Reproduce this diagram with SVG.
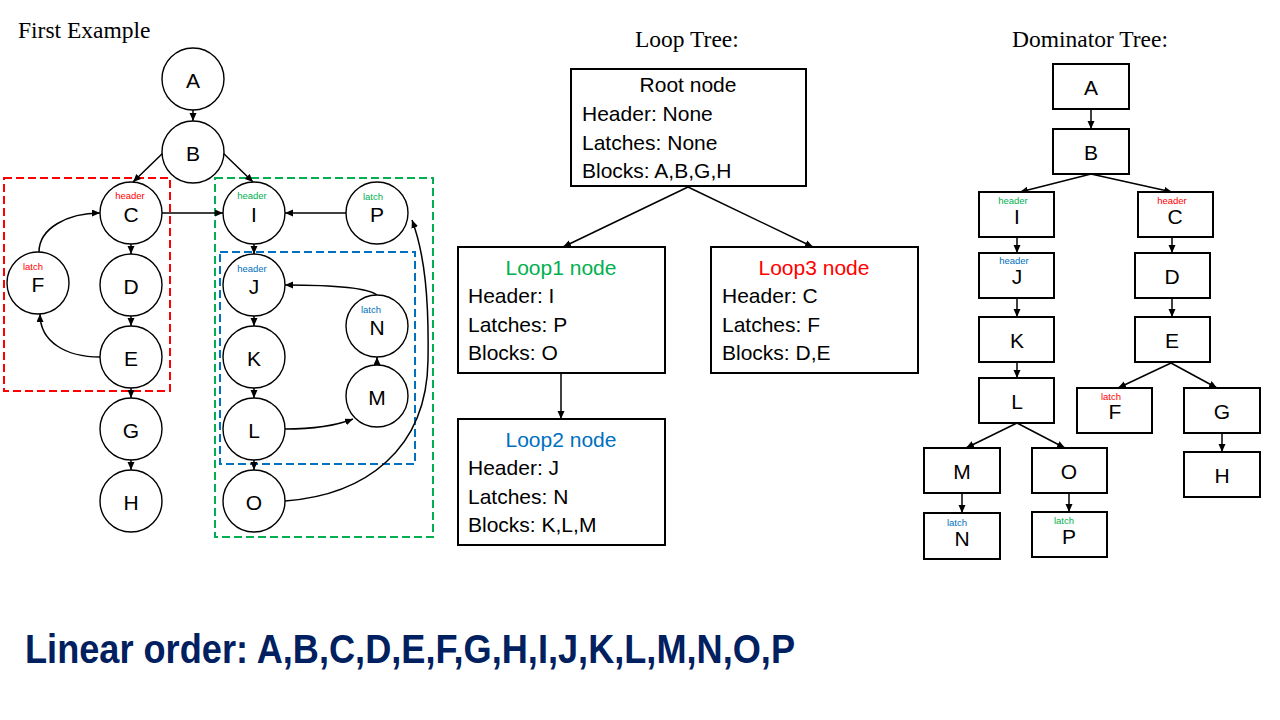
<svg xmlns="http://www.w3.org/2000/svg" width="1280" height="720" viewBox="0 0 1280 720">
<defs>
<marker id="ah" markerUnits="userSpaceOnUse" markerWidth="9" markerHeight="8" refX="8" refY="3.5" orient="auto"><path d="M0,0 L8,3.5 L0,7 z" fill="#000"/></marker>
<style>
.title{font-family:"Liberation Serif",serif;font-size:23.5px;fill:#000}
.c{fill:#fff;stroke:#000;stroke-width:1.4}
.lt{font-family:"Liberation Sans",Arial,sans-serif;font-size:21px;fill:#000;text-anchor:middle}
.sm{font-family:"Liberation Sans",Arial,sans-serif;font-size:9.5px;text-anchor:middle}
.red{fill:#ff0000}.grn{fill:#00b050}.blu{fill:#0070c0}
.e{fill:none;stroke:#000;stroke-width:1.5;marker-end:url(#ah)}
.dash{fill:none;stroke-width:2;stroke-dasharray:8 4}
.bx{fill:#fff;stroke:#000;stroke-width:2}
.tx{font-family:"Liberation Sans",Arial,sans-serif;font-size:21px;fill:#000}
.hd{font-family:"Liberation Sans",Arial,sans-serif;font-size:21px;text-anchor:middle}
</style>
</defs>
<rect width="1280" height="720" fill="#fff"/>

<text class="title" x="18" y="38">First Example</text>
<text class="title" x="635" y="47">Loop Tree:</text>
<text class="title" x="1012" y="47">Dominator Tree:</text>

<!-- loop regions -->
<g id="regions">
<rect class="dash" x="4" y="178" width="166" height="213" stroke="#ff0000"/>
<rect class="dash" x="215" y="178" width="218" height="359" stroke="#00b050"/>
<rect class="dash" x="220" y="252" width="195" height="212" stroke="#0070c0"/>
</g>

<!-- CFG connectors -->
<g id="cfg-edges">
<path class="e" d="M193,110 L193,121"/>
<path class="e" d="M164,152 L133,182"/>
<path class="e" d="M222,152 L253,182"/>
<path class="e" d="M162,213 L223,213"/>
<path class="e" d="M346,213 L285,213"/>
<path class="e" d="M131,244 L131,254"/>
<path class="e" d="M131,316 L131,326"/>
<path class="e" d="M131,388 L131,398"/>
<path class="e" d="M131,460 L131,470"/>
<path class="e" d="M39,252 C39,228 68,213 100,213"/>
<path class="e" d="M100,357 C66,357 40,342 40,314"/>
<path class="e" d="M254,244 L254,254"/>
<path class="e" d="M254,316 L254,326"/>
<path class="e" d="M254,388 L254,398"/>
<path class="e" d="M254,460 L254,470"/>
<path class="e" d="M377,295 C368,288 330,285 285,285"/>
<path class="e" d="M285,429 C310,429 335,426 353,419"/>
<path class="e" d="M377,365 L377,357"/>
<path class="e" d="M285,501 C365,495 427,450 428,360 C429,300 425,255 412,220"/>
</g>

<!-- CFG nodes -->
<g id="cfg-A"><circle class="c" cx="193" cy="79" r="31"/><text class="lt" x="193" y="87.5">A</text></g>
<g id="cfg-B"><circle class="c" cx="193" cy="152" r="31"/><text class="lt" x="193" y="160.5">B</text></g>
<g id="cfg-C"><circle class="c" cx="131" cy="213" r="31"/><text class="sm red" x="130" y="199">header</text><text class="lt" x="131" y="222">C</text></g>
<g id="cfg-D"><circle class="c" cx="131" cy="285" r="31"/><text class="lt" x="131" y="293.5">D</text></g>
<g id="cfg-E"><circle class="c" cx="131" cy="357" r="31"/><text class="lt" x="131" y="365.5">E</text></g>
<g id="cfg-G"><circle class="c" cx="131" cy="429" r="31"/><text class="lt" x="131" y="437.5">G</text></g>
<g id="cfg-H"><circle class="c" cx="131" cy="501" r="31"/><text class="lt" x="131" y="509.5">H</text></g>
<g id="cfg-F"><circle class="c" cx="38" cy="283" r="31"/><text class="sm red" x="33" y="269.5">latch</text><text class="lt" x="38" y="292">F</text></g>
<g id="cfg-I"><circle class="c" cx="254" cy="213" r="31"/><text class="sm grn" x="252" y="199">header</text><text class="lt" x="254" y="222">I</text></g>
<g id="cfg-J"><circle class="c" cx="254" cy="285" r="31"/><text class="sm blu" x="252" y="271.5">header</text><text class="lt" x="254" y="294">J</text></g>
<g id="cfg-K"><circle class="c" cx="254" cy="357" r="31"/><text class="lt" x="254" y="365.5">K</text></g>
<g id="cfg-L"><circle class="c" cx="254" cy="429" r="31"/><text class="lt" x="254" y="437.5">L</text></g>
<g id="cfg-O"><circle class="c" cx="254" cy="501" r="31"/><text class="lt" x="254" y="509.5">O</text></g>
<g id="cfg-P"><circle class="c" cx="377" cy="213" r="31"/><text class="sm grn" x="373" y="199.5">latch</text><text class="lt" x="377" y="222">P</text></g>
<g id="cfg-N"><circle class="c" cx="377" cy="326" r="31"/><text class="sm blu" x="371" y="312.5">latch</text><text class="lt" x="377" y="335">N</text></g>
<g id="cfg-M"><circle class="c" cx="377" cy="396" r="31"/><text class="lt" x="377" y="404.5">M</text></g>

<!-- loop tree connectors -->
<g id="lt-edges">
<path class="e" d="M688,187 L563,247"/>
<path class="e" d="M688,187 L813,247"/>
<path class="e" d="M561,373 L561,419"/>
</g>

<g id="lt-root">
<rect class="bx" x="571" y="69" width="235" height="117"/>
<text class="hd" x="688" y="92" fill="#000">Root node</text>
<text class="tx" x="582" y="121">Header: None</text>
<text class="tx" x="582" y="150">Latches: None</text>
<text class="tx" x="582" y="178">Blocks: A,B,G,H</text>
</g>
<g id="lt-loop1">
<rect class="bx" x="458" y="247" width="207" height="126" stroke="#00b050"/>
<text class="hd" x="561" y="275" fill="#00b050">Loop1 node</text>
<text class="tx" x="468" y="303">Header: I</text>
<text class="tx" x="468" y="332">Latches: P</text>
<text class="tx" x="468" y="360">Blocks: O</text>
</g>
<g id="lt-loop3">
<rect class="bx" x="711" y="247" width="207" height="126" stroke="#ff0000"/>
<text class="hd" x="814" y="275" fill="#ff0000">Loop3 node</text>
<text class="tx" x="722" y="303">Header: C</text>
<text class="tx" x="722" y="332">Latches: F</text>
<text class="tx" x="722" y="360">Blocks: D,E</text>
</g>
<g id="lt-loop2">
<rect class="bx" x="458" y="419" width="207" height="126" stroke="#0070c0"/>
<text class="hd" x="561" y="447" fill="#0070c0">Loop2 node</text>
<text class="tx" x="468" y="475">Header: J</text>
<text class="tx" x="468" y="504">Latches: N</text>
<text class="tx" x="468" y="532">Blocks: K,L,M</text>
</g>

<!-- dominator tree connectors -->
<g id="dom-edges">
<path class="e" d="M1091,109 L1091,129"/>
<path class="e" d="M1091,174 L1020,192"/>
<path class="e" d="M1091,174 L1172,192"/>
<path class="e" d="M1017,237 L1017,253"/>
<path class="e" d="M1017,298 L1017,317"/>
<path class="e" d="M1017,362 L1017,378"/>
<path class="e" d="M1172,237 L1172,253"/>
<path class="e" d="M1172,298 L1172,317"/>
<path class="e" d="M1171,363 L1118,388"/>
<path class="e" d="M1171,363 L1217,388"/>
<path class="e" d="M1017,423 L966,448"/>
<path class="e" d="M1017,423 L1065,448"/>
<path class="e" d="M962,493 L962,513"/>
<path class="e" d="M1069,493 L1069,512"/>
<path class="e" d="M1222,433 L1222,452"/>
</g>

<g id="dom-A"><rect class="bx" x="1053" y="64" width="76" height="45"/><text class="lt" x="1091" y="94.5">A</text></g>
<g id="dom-B"><rect class="bx" x="1053" y="129" width="76" height="45"/><text class="lt" x="1091" y="159.5">B</text></g>
<g id="dom-I"><rect class="bx" x="979" y="192" width="75" height="45"/><text class="sm grn" x="1013" y="204">header</text><text class="lt" x="1017" y="224">I</text></g>
<g id="dom-C"><rect class="bx" x="1138" y="192" width="75" height="45"/><text class="sm red" x="1172" y="203.5">header</text><text class="lt" x="1175" y="224">C</text></g>
<g id="dom-J"><rect class="bx" x="979" y="253" width="75" height="45"/><text class="sm blu" x="1014" y="264">header</text><text class="lt" x="1017" y="284">J</text></g>
<g id="dom-D"><rect class="bx" x="1135" y="253" width="75" height="45"/><text class="lt" x="1172" y="283.5">D</text></g>
<g id="dom-K"><rect class="bx" x="979" y="317" width="75" height="45"/><text class="lt" x="1017" y="347.5">K</text></g>
<g id="dom-E"><rect class="bx" x="1135" y="317" width="75" height="45"/><text class="lt" x="1172" y="347.5">E</text></g>
<g id="dom-L"><rect class="bx" x="979" y="378" width="75" height="45"/><text class="lt" x="1017" y="408.5">L</text></g>
<g id="dom-F"><rect class="bx" x="1077" y="388" width="75" height="45"/><text class="sm red" x="1111" y="399.5">latch</text><text class="lt" x="1115" y="419">F</text></g>
<g id="dom-G"><rect class="bx" x="1184" y="388" width="76" height="45"/><text class="lt" x="1222" y="418.5">G</text></g>
<g id="dom-H"><rect class="bx" x="1184" y="452" width="76" height="45"/><text class="lt" x="1222" y="482.5">H</text></g>
<g id="dom-M"><rect class="bx" x="924" y="448" width="76" height="45"/><text class="lt" x="962" y="478.5">M</text></g>
<g id="dom-O"><rect class="bx" x="1032" y="448" width="75" height="45"/><text class="lt" x="1069" y="478.5">O</text></g>
<g id="dom-N"><rect class="bx" x="924" y="513" width="76" height="46"/><text class="sm blu" x="957" y="526">latch</text><text class="lt" x="962" y="546">N</text></g>
<g id="dom-P"><rect class="bx" x="1032" y="512" width="75" height="45"/><text class="sm grn" x="1064" y="523.5">latch</text><text class="lt" x="1069" y="544">P</text></g>

<text x="25" y="663" font-family="'Liberation Sans',Arial,sans-serif" font-weight="bold" font-size="40" fill="#002060" textLength="770" lengthAdjust="spacingAndGlyphs">Linear order: A,B,C,D,E,F,G,H,I,J,K,L,M,N,O,P</text>
</svg>
